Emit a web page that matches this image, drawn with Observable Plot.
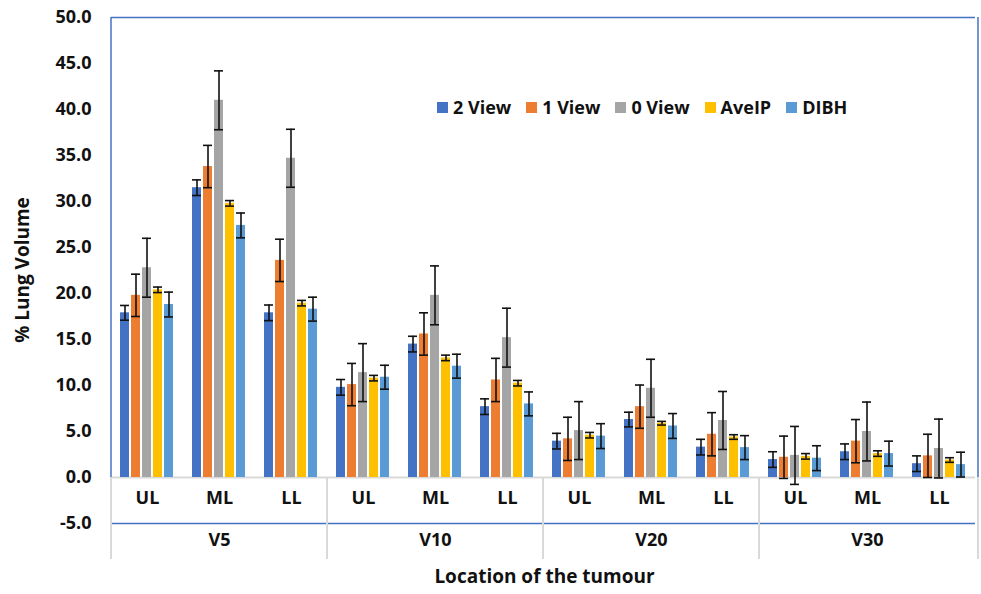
<!DOCTYPE html>
<html><head><meta charset="utf-8">
<script src="https://cdn.jsdelivr.net/npm/d3@7"></script>
<script src="https://cdn.jsdelivr.net/npm/@observablehq/plot@0.6"></script>
<style>
body{margin:0;background:#fff;font-family:"Open Sans",sans-serif;}
#wrap{position:relative;width:981px;height:594px;overflow:hidden;}
#legend{position:absolute;left:437px;top:95px;display:flex;align-items:center;font-weight:700;font-size:18px;color:#111;white-space:nowrap;}
#legend .item{display:flex;align-items:center;margin-right:15px;}
#legend .sw{width:11px;height:11px;margin-right:5px;display:inline-block;}
</style></head><body>
<div id="wrap"><div id="chart"></div><div id="legend"></div></div>
<script>
const groups = ["V5", "V10", "V20", "V30"];
const locations = ["UL", "ML", "LL"];
const seriesNames = ["2 View", "1 View", "0 View", "AveIP", "DIBH"];
const seriesColors = ["#4472C4", "#ED7D31", "#A5A5A5", "#FFC000", "#5B9BD5"];
const yTicks = [-5, 0, 5, 10, 15, 20, 25, 30, 35, 40, 45, 50];

// order: V5 UL, ML, LL, V10 UL, ML, LL, V20 UL, ML, LL, V30 UL, ML, LL
const view2 = [17.9, 31.5, 17.9, 9.8, 14.5, 7.7, 3.95, 6.3, 3.3, 1.95, 2.8, 1.5];
const view1 = [19.8, 33.8, 23.6, 10.1, 15.6, 10.6, 4.2, 7.7, 4.7, 2.2, 3.95, 2.35];
const view0 = [22.8, 41.0, 34.7, 11.4, 19.8, 15.2, 5.1, 9.7, 6.2, 2.4, 5.0, 3.15];
const aveIP = [20.4, 29.8, 18.95, 10.8, 13.0, 10.25, 4.6, 5.9, 4.4, 2.3, 2.6, 1.9];
const dibh  = [18.8, 27.4, 18.3, 10.9, 12.1, 8.0, 4.5, 5.6, 3.25, 2.1, 2.6, 1.4];

const view2Err = [0.8, 0.85, 0.85, 0.85, 0.85, 0.85, 0.85, 0.8, 0.85, 0.85, 0.85, 0.85];
const view1Err = [2.3, 2.3, 2.3, 2.3, 2.3, 2.35, 2.35, 2.35, 2.35, 2.3, 2.35, 2.35];
const view0Err = [3.2, 3.2, 3.15, 3.15, 3.2, 3.2, 3.15, 3.15, 3.15, 3.15, 3.2, 3.2];
const aveIPErr = [0.3, 0.3, 0.3, 0.3, 0.3, 0.3, 0.3, 0.2, 0.25, 0.3, 0.3, 0.25];
const dibhErr  = [1.35, 1.35, 1.3, 1.3, 1.3, 1.3, 1.35, 1.35, 1.3, 1.35, 1.35, 1.35];

const seriesValues = [view2, view1, view0, aveIP, dibh];
const seriesErrors = [view2Err, view1Err, view0Err, aveIPErr, dibhErr];

const keys = [];
groups.forEach(g => locations.forEach(l => keys.push(g + "|" + l)));
const rows = [];
keys.forEach((k, i) => {
  const [group, loc] = k.split("|");
  seriesNames.forEach((s, j) => {
    rows.push({key: k, group, loc, series: s, value: seriesValues[j][i], err: seriesErrors[j][i]});
  });
});

const W = 981, H = 594, mL = 108, mR = 3, mT = 17, mB = 71;
const ink = "#111";

const plot = Plot.plot({
  width: W, height: H,
  marginLeft: mL, marginRight: mR, marginTop: mT, marginBottom: mB,
  style: {fontFamily: "Open Sans", fontWeight: 700, fontSize: "18px", color: ink, background: "white"},
  facet: {data: rows, x: "key"},
  fx: {domain: keys, padding: 0, axis: null, label: null},
  x: {domain: seriesNames, paddingInner: 0.15, paddingOuter: 0.8, axis: null},
  y: {domain: [-5, 50], ticks: yTicks, tickFormat: d => d.toFixed(1), tickSize: 0, tickPadding: 20,
      label: null},
  color: {domain: seriesNames, range: seriesColors},
  marks: [
    Plot.ruleY([0], {stroke: "#d9d9d9", strokeWidth: 2}),
    Plot.ruleY([-5], {stroke: "#4472C4", strokeWidth: 1.5}),
    Plot.ruleY([50], {stroke: "#4472C4", strokeWidth: 1.5}),
    Plot.barY(rows, {x: "series", y: "value", fill: "series"}),
    Plot.ruleX(rows, {x: "series", y1: d => d.value - d.err, y2: d => d.value + d.err, stroke: ink, strokeWidth: 1.6}),
    Plot.tickY(rows, {x: "series", y: d => d.value - d.err, stroke: ink, strokeWidth: 1.6}),
    Plot.tickY(rows, {x: "series", y: d => d.value + d.err, stroke: ink, strokeWidth: 1.6}),
    Plot.text(rows, {filter: d => d.series === seriesNames[0], text: "loc", frameAnchor: "bottom", dy: -20, fill: ink, fontSize: 18, fontWeight: 700}),
    Plot.text(rows, {filter: d => d.series === seriesNames[0] && d.loc === "ML", text: "group", frameAnchor: "bottom", dy: 22, fill: ink, fontSize: 18, fontWeight: 700})
  ]
});
document.getElementById("chart").appendChild(plot);

// decorations using the library's scales
const svg = d3.select(plot);
let fxS, yS;
try { fxS = plot.scale("fx"); } catch (e) {}
try { yS = plot.scale("y"); } catch (e) {}
const fxApply = (fxS && fxS.apply) ? fxS.apply : d3.scaleBand(keys, [mL, W - mR]);
const yApply = (yS && yS.apply) ? yS.apply : d3.scaleLinear([-5, 50], [H - mB, mT]);
const left = fxApply(keys[0]);
const right = W - mR;
const deco = svg.append("g");
// blue side borders of the plot area
[left, right].forEach(x => {
  deco.append("line").attr("x1", x).attr("x2", x).attr("y1", yApply(50)).attr("y2", yApply(0))
    .attr("stroke", "#4472C4").attr("stroke-width", 1.5);
});
// gray group separators below the zero line
const sepX = groups.map(g => fxApply(g + "|" + locations[0])).concat([right]);
sepX.forEach(x => {
  deco.append("line").attr("x1", x).attr("x2", x).attr("y1", yApply(0)).attr("y2", yApply(-5) + 36)
    .attr("stroke", "#d9d9d9").attr("stroke-width", 2);
});
// axis titles
deco.append("text").attr("x", (left + right) / 2).attr("y", 578).attr("text-anchor", "middle")
  .attr("dominant-baseline", "middle").attr("fill", ink).attr("font-size", 19).attr("font-weight", 700)
  .text("Location of the tumour");
deco.append("text").attr("transform", `translate(24,${(yApply(50) + yApply(-5)) / 2}) rotate(-90)`)
  .attr("text-anchor", "middle").attr("dominant-baseline", "middle").attr("fill", ink)
  .attr("font-size", 19).attr("font-weight", 700).text("% Lung Volume");

// legend
const lg = d3.select("#legend");
seriesNames.forEach((s, i) => {
  const it = lg.append("div").attr("class", "item");
  it.append("span").attr("class", "sw").style("background", seriesColors[i]);
  it.append("span").text(s);
});
</script></body></html>
